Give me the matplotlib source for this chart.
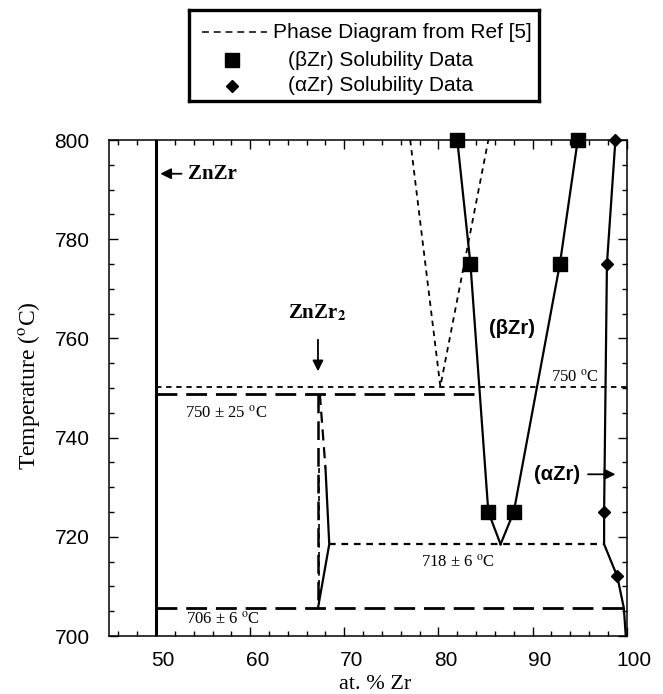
import matplotlib
matplotlib.use("Agg")
import matplotlib.pyplot as plt
import matplotlib.transforms as mtransforms
from matplotlib.ticker import MultipleLocator

plt.rcParams['font.family'] = ['Liberation Sans', 'DejaVu Sans']
plt.rcParams['mathtext.fontset'] = 'stix'

# --- data (at.% Zr, temperature in C) ---
znzr_x = 50.0
beta_t = [800, 775, 725]
beta_left_x = [82.0, 83.4, 85.3]
beta_right_x = [94.8, 92.9, 88.0]
eutectoid_x = 86.6
eutectoid_t = 718.5

alpha_t = [800, 775, 725, 712]
alpha_x = [98.8, 97.9, 97.6, 99.0]
alpha_line_x = [98.8, 97.9, 97.6, 97.6, 99.0, 99.7, 99.9]
alpha_line_t = [800, 775, 725, 718.5, 712, 705.6, 700]

ref_v_x = [77.0, 80.2, 85.3]
ref_v_t = [800, 750.3, 800]
ref_750_t = 750.3
exp_750_t = 748.8
exp_750_x = [50.0, 84.0]
t718_x = [68.4, 97.6]
t706_t = 705.6

znzr2_x = 67.2
znzr2_top_x = [67.4, 68.0]
znzr2_top_t = [748.8, 733.8]
znzr2_low_x = [68.0, 68.4, 67.2]
znzr2_low_t = [733.8, 718.5, 705.6]

x_ticks = [50, 60, 70, 80, 90, 100]
y_ticks = [700, 720, 740, 760, 780, 800]

serif = 'Liberation Serif'
long_dash = (0, (7.5, 3.2))
short_dash = (0, (3.0, 2.6))

fig = plt.figure(figsize=(6.63, 6.94), dpi=100)
ax = fig.add_axes([109 / 663, 1 - 636 / 694, 517.7 / 663, 496 / 694])

# Ref [5] diagram (thin short dashes)
ax.plot(ref_v_x, ref_v_t, color='k', lw=1.3, ls=short_dash)
ax.axhline(ref_750_t, xmin=(znzr_x - 45) / 55, xmax=1, color='k', lw=1.3, ls=short_dash)
ax.plot(t718_x, [eutectoid_t, eutectoid_t], color='k', lw=1.6, ls=short_dash)
ax.plot([znzr2_x + 0.1, znzr2_x + 0.1], [733.8, t706_t], color='k', lw=1.2, ls=short_dash)

# experimental lines
ax.axvline(znzr_x, color='k', lw=2.2)
ax.plot(exp_750_x, [exp_750_t, exp_750_t], color='k', lw=2.0, ls=long_dash)
ax.axhline(t706_t, xmin=(znzr_x - 45) / 55, xmax=1, color='k', lw=2.0, ls=long_dash)
ax.plot([znzr2_x, znzr2_x], [exp_750_t, t706_t], color='k', lw=1.8, ls=long_dash)
ax.plot(znzr2_top_x, znzr2_top_t, color='k', lw=1.6, ls=(0, (5, 3)))
ax.plot(znzr2_low_x, znzr2_low_t, color='k', lw=1.6)

ax.plot(beta_left_x + [eutectoid_x], beta_t + [eutectoid_t], color='k', lw=1.6)
ax.plot(beta_right_x + [eutectoid_x], beta_t + [eutectoid_t], color='k', lw=1.6)
ax.plot(alpha_line_x, alpha_line_t, color='k', lw=1.6, clip_on=False)

ax.plot(beta_left_x, beta_t, 's', color='k', ms=10.5, clip_on=False, zorder=5)
ax.plot(beta_right_x, beta_t, 's', color='k', ms=10.5, clip_on=False, zorder=5)
ax.plot(alpha_x, alpha_t, 'D', color='k', ms=6.3, clip_on=False, zorder=5)

# annotations
arrow = dict(arrowstyle='-|>', color='k', lw=1.3, mutation_scale=16)
ax.annotate('', xy=(50.15, 793.2), xytext=(53.0, 793.2), arrowprops=arrow)
ax.text(53.4, 793.2, 'ZnZr', family=serif, weight='bold', fontsize=15, va='center')
ax.annotate('', xy=(67.2, 752.8), xytext=(67.2, 760.3), arrowprops=arrow)
ax.text(67.1, 763.0, r'ZnZr$_{\mathbf{2}}$', family=serif, weight='bold', fontsize=15,
        ha='center', va='bottom')
ax.text(87.8, 762.0, '(βZr)', fontsize=14.5, weight='bold', ha='center', va='center')
ax.annotate('', xy=(99.1, 732.6), xytext=(95.6, 732.6), arrowprops=arrow)
ax.text(95.1, 732.6, '(αZr)', fontsize=14.5, weight='bold', ha='right', va='center')

ax.text(94.5, 752.2, r'750 $^{\mathrm{o}}$C', family=serif, fontsize=12, ha='center', va='center')
ax.text(57.4, 745.0, r'750 ± 25 $^{\mathrm{o}}$C', family=serif, fontsize=12, ha='center', va='center')
ax.text(82.1, 714.8, r'718 ± 6 $^{\mathrm{o}}$C', family=serif, fontsize=12, ha='center', va='center')
ax.text(57.1, 703.3, r'706 ± 6 $^{\mathrm{o}}$C', family=serif, fontsize=12, ha='center', va='center')

# axes
ax.set_xlim(45, 100)
ax.set_ylim(700, 800)
ax.set_xticks(x_ticks)
ax.set_yticks(y_ticks)
ax.xaxis.set_minor_locator(MultipleLocator(2))
ax.yaxis.set_minor_locator(MultipleLocator(5))
ax.tick_params(which='both', direction='in', top=True, right=True, width=1.0, labelsize=15)
ax.tick_params(which='major', length=6.5)
ax.tick_params(which='minor', length=3.6)
ax.tick_params(axis='x', pad=11)
ax.tick_params(axis='y', pad=14)
for s in ax.spines.values():
    s.set_linewidth(1.1)

shift = mtransforms.ScaledTranslation(7 / 100, 0, fig.dpi_scale_trans)
for lab in ax.get_xticklabels():
    lab.set_transform(lab.get_transform() + shift)

ax.set_xlabel('at. % Zr', family=serif, fontsize=16)
ax.xaxis.set_label_coords(0.514, -0.078)
ax.set_ylabel(r'Temperature ($^{\mathrm{o}}$C)', family=serif, fontsize=17)
ax.yaxis.set_label_coords(-0.129, 0.505)

# legend box
lax = fig.add_axes([189 / 663, 1 - 101 / 694, 350 / 663, 91 / 694])
lax.set_xlim(0, 1)
lax.set_ylim(0, 1)
lax.set_xticks([])
lax.set_yticks([])
for s in lax.spines.values():
    s.set_linewidth(2.4)
lax.plot([0.036, 0.222], [0.758, 0.758], color='k', lw=1.1, ls=(0, (4.5, 3.2)))
lax.text(0.241, 0.758, 'Phase Diagram from Ref [5]', fontsize=15, va='center')
lax.plot([0.122], [0.45], 's', color='k', ms=10.5)
lax.text(0.283, 0.45, '(βZr) Solubility Data', fontsize=15, va='center')
lax.plot([0.122], [0.165], 'D', color='k', ms=6.3)
lax.text(0.283, 0.165, '(αZr) Solubility Data', fontsize=15, va='center')

fig.savefig('out.png', dpi=100)
